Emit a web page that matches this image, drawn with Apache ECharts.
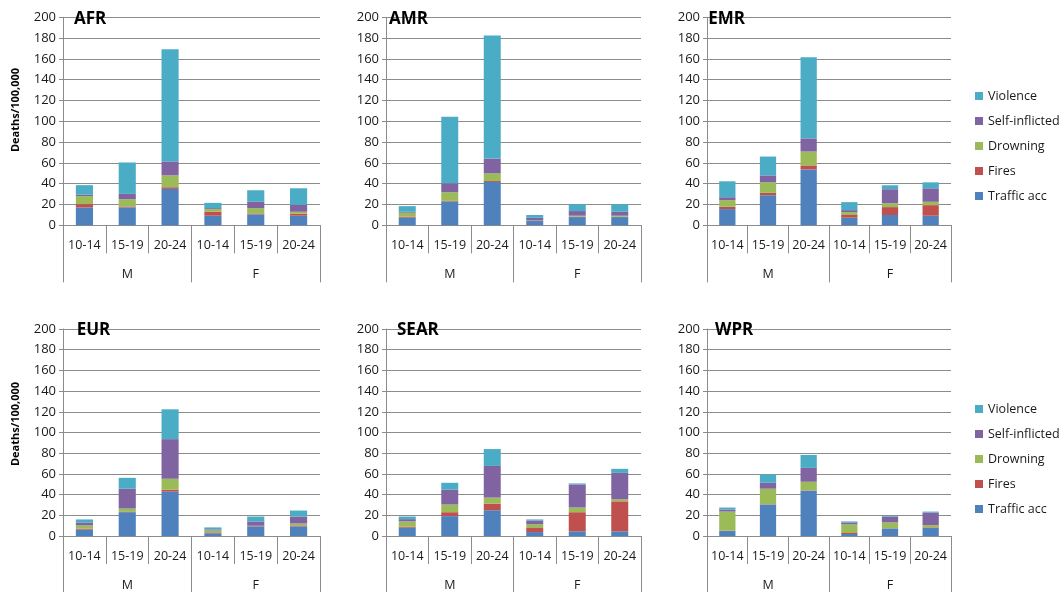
<!DOCTYPE html>
<html>
<head>
<meta charset="utf-8">
<script src="https://cdn.jsdelivr.net/npm/echarts@6/dist/echarts.min.js"></script>
<style>
html,body{margin:0;padding:0;background:#fff;}
#chart{width:1061px;height:592px;}
</style>
</head>
<body>
<div id="chart"></div>
<script>
// Categories and tick labels
const ageGroups = ['10-14','15-19','20-24','10-14','15-19','20-24'];
const sexGroups = ['M','F'];
const regions = ['AFR','AMR','EMR','EUR','SEAR','WPR'];
const causes = ['Traffic acc','Fires','Drowning','Self-inflicted','Violence'];
const yTicks = [0,20,40,60,80,100,120,140,160,180,200];

// Values (Deaths/100,000), rows in the order of `causes`
const AFR = [
  [17.2,17.2,35,9.2,10.5,9.2],
  [3.2,0.9,1.6,3.8,0.9,1.9],
  [7.7,7,11.4,2.6,5.1,1.9],
  [1.3,5.1,13.4,0.9,6.1,6.7],
  [9.2,30.2,107.8,5.1,11.1,15.9]
];
const AMR = [
  [7.3,22.9,41.7,4.1,7.9,7.9],
  [1,0.6,0.9,0.2,0.3,0.3],
  [3.8,8.3,7.3,0.3,1,1],
  [0.9,8.6,14.3,2.6,4.5,3.8],
  [5.4,63.9,118.3,2.7,6.6,7.3]
];
const EMR = [
  [15.6,28.9,53.7,7.3,9.9,9.2],
  [2.2,2.3,3.9,2.6,7.6,10.2],
  [6.4,10.1,13.3,2.8,3.8,3.2],
  [2.8,6.7,12.7,1.9,13.4,13],
  [15.3,18.1,77.9,7.7,3.8,5.7]
];
const EUR = [
  [6.1,23,42.8,2.6,9.3,9.3],
  [0.9,0.3,1.9,0.9,0.3,0.9],
  [3.2,3.2,10.6,1.9,0.3,1.9],
  [2.9,19.2,38.3,1,4.2,6.7],
  [2.9,10.5,28.8,1.9,4.7,5.8]
];
const SEAR = [
  [8,19.2,24.9,3.8,4.5,4.5],
  [0.9,3.8,6.4,3.9,18.5,29],
  [5.2,7.4,5.8,3.5,4.5,2],
  [2.2,14.3,30.6,3.8,22.3,25.5],
  [2.5,6.7,16.3,1,1,3.9]
];
const WPR = [
  [4.8,30.4,43.8,1.9,7.3,7.7],
  [0.3,0.3,0.3,1,0.2,0.6],
  [18.5,15,8.3,8.3,5.6,2.2],
  [2,5.7,13.4,1.9,5.7,12.2],
  [1.9,8.3,12.5,1,0.7,0.9]
];
const regionData = [AFR, AMR, EMR, EUR, SEAR, WPR];
const colors = ['#4F81BD','#C0504D','#9BBB59','#8064A2','#4BACC6'];

// Layout
const lefts = [63, 386, 707];
const widths = [257, 255, 244];
const tops = [17.3, 329];
const heights = [208, 208.7];
const titleOffsets = [11, 3, 1.3, 13.7, 11, 8];

const FONT = '"Open Sans", "Liberation Sans", sans-serif';
const gridColor = '#8c8c8c';
const textColor = '#1a1a1a';

const grids = [], xAxes = [], yAxes = [], series = [], titles = [];
regions.forEach((r, i) => {
  const col = i % 3, row = Math.floor(i / 3);
  grids.push({left: lefts[col], top: tops[row], width: widths[col], height: heights[row]});
  xAxes.push({
    type: 'category', gridIndex: i, data: ageGroups, position: 'bottom',
    axisLine: {show: true, lineStyle: {color: gridColor, width: 1}},
    axisTick: {show: true, interval: 0, length: 28, lineStyle: {color: gridColor}},
    axisLabel: {interval: 0, margin: 14, fontSize: 12.5, color: textColor, fontFamily: FONT}
  });
  xAxes.push({
    type: 'category', gridIndex: i, data: sexGroups, position: 'bottom',
    axisLine: {show: false},
    axisTick: {show: true, interval: 0, length: 57, lineStyle: {color: gridColor}},
    axisLabel: {interval: 0, margin: 43, fontSize: 12.5, color: textColor, fontFamily: FONT}
  });
  yAxes.push({
    type: 'value', gridIndex: i, min: yTicks[0], max: yTicks[yTicks.length-1], interval: 20,
    axisLine: {show: true, lineStyle: {color: gridColor, width: 1}},
    axisTick: {show: true, length: 4, lineStyle: {color: gridColor}},
    axisLabel: {margin: 7, fontSize: 13, color: textColor, fontFamily: FONT},
    splitLine: {show: true, lineStyle: {color: gridColor, width: 1}}
  });
  causes.forEach((c, k) => {
    series.push({
      name: c, type: 'bar', stack: 'stack' + i,
      xAxisIndex: 2 * i, yAxisIndex: i,
      data: regionData[i][k],
      barWidth: '40%',
      itemStyle: {color: colors[k]},
      emphasis: {disabled: true}
    });
  });
  titles.push({
    text: r, left: lefts[col] + titleOffsets[i], top: tops[row] - 7, padding: 0,
    textStyle: {fontSize: 17, fontWeight: 'bold', color: '#000', fontFamily: FONT}
  });
});

const legendNames = causes.slice().reverse();
const legendBase = {
  orient: 'vertical', left: 970, itemWidth: 8, itemHeight: 8, itemGap: 11,
  icon: 'rect', data: legendNames, selectedMode: false,
  textStyle: {fontSize: 12.5, color: textColor, fontFamily: FONT, lineHeight: 14}
};

const chart = echarts.init(document.getElementById('chart'), null, {renderer: 'canvas'});
chart.setOption({
  animation: false,
  color: colors,
  title: titles,
  grid: grids,
  xAxis: xAxes,
  yAxis: yAxes,
  series: series,
  legend: [
    Object.assign({}, legendBase, {top: 84}),
    Object.assign({}, legendBase, {top: 397})
  ],
  graphic: [
    {type: 'text', x: 16, y: 110, rotation: Math.PI / 2,
     style: {text: 'Deaths/100,000', fontSize: 11, fontWeight: 'bold', fill: '#000', fontFamily: FONT, align: 'center', verticalAlign: 'middle'}},
    {type: 'text', x: 16, y: 424, rotation: Math.PI / 2,
     style: {text: 'Deaths/100,000', fontSize: 11, fontWeight: 'bold', fill: '#000', fontFamily: FONT, align: 'center', verticalAlign: 'middle'}}
  ]
});
</script>
</body>
</html>
